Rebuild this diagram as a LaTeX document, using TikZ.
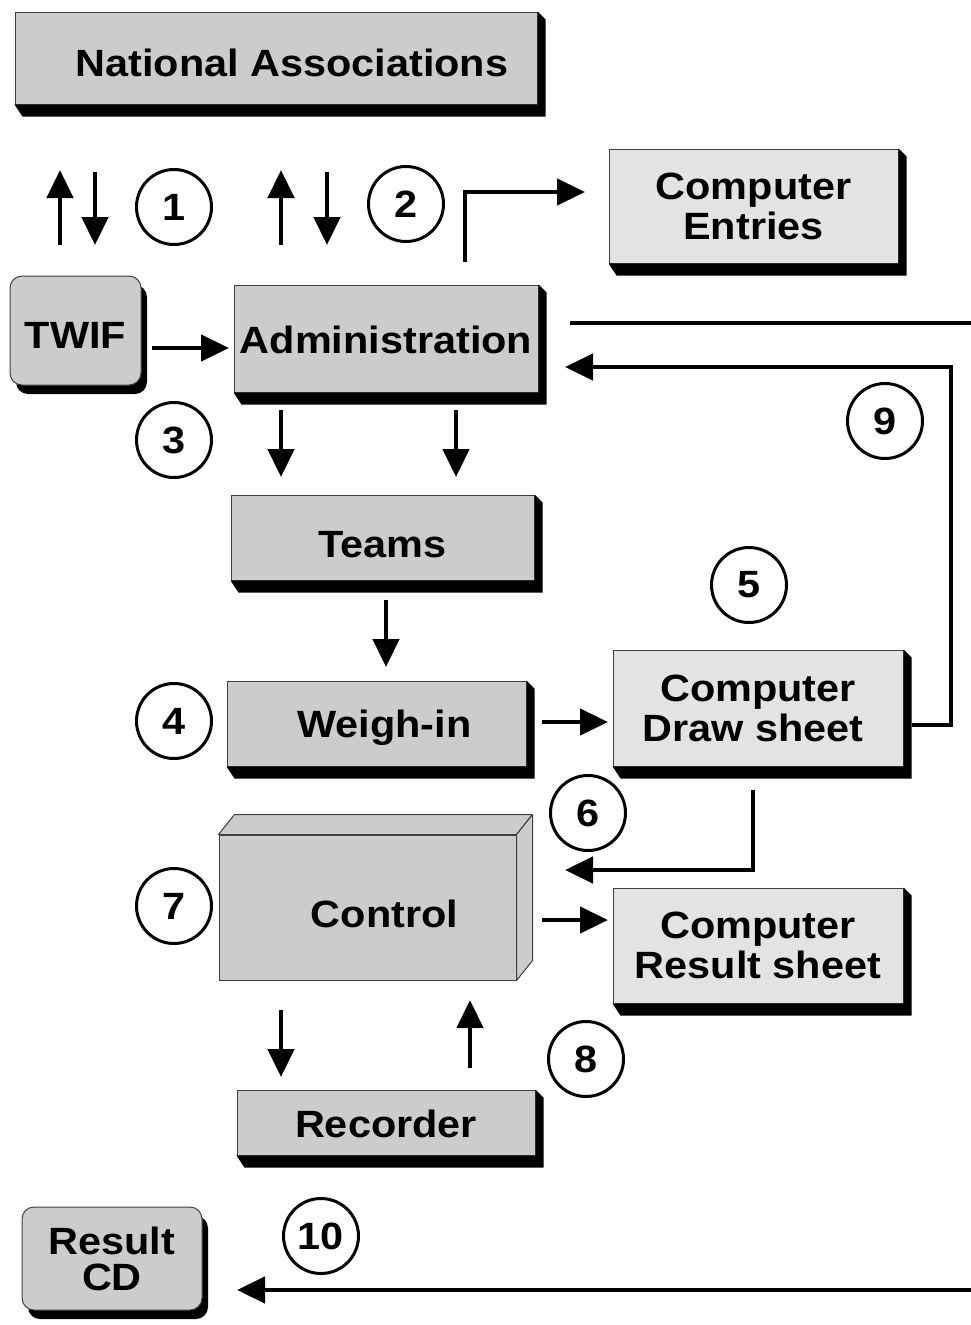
\documentclass[tikz,border=0pt]{standalone}
\usepackage{fontspec}
\setmainfont{Liberation Sans}[FakeStretch=1.09]
\usetikzlibrary{arrows.meta,calc,shadows}
\definecolor{boxgray}{HTML}{CCCCCC}
\definecolor{boxlight}{HTML}{E3E3E3}
\tikzset{
  x=1pt,y=-1pt,
  box/.style={draw=black!75, line width=1pt, fill=boxgray, inner sep=0pt,
    font=\fontsize{38}{40}\selectfont\bfseries, align=center},
  lightbox/.style={box, fill=boxlight},
  rbox/.style={box, rounded corners=12pt,
    drop shadow={shadow xshift=6pt, shadow yshift=-9pt, fill=black, opacity=1}},
  numc/.style={circle, draw=black, line width=3pt, minimum size=75pt, inner sep=0pt,
    font=\fontsize{38}{40}\selectfont\bfseries},
  arr/.style={line width=4.5pt, -{Triangle[length=28pt,width=26pt]}},
  conn/.style={line width=4.5pt},
  face/.style={fill=boxgray, draw=black!75, line width=1pt, line join=round},
}
\newcommand\bevshadow[1]{\fill[black] (#1.north east) -- ++(8,8) -- ($(#1.south east)+(8,12)$) -- ($(#1.south west)+(8,12)$) -- (#1.south west) -- (#1.south east) -- cycle;}
\newcommand\tlow[2]{\raisebox{-#1pt}[0.72em][0pt]{#2}}
\begin{document}
\begin{tikzpicture}
\useasboundingbox (0,0) rectangle (970,1325);

% boxes
\node[box, minimum width=522pt, minimum height=92pt] (na) at (276,58) {\hspace*{32pt}\tlow{5}{National Associations}};
\bevshadow{na}
\node[rbox, minimum width=131pt, minimum height=109pt] (twif) at (75.5,330.5) {\tlow{4}{TWIF}};
\node[box, minimum width=304pt, minimum height=107pt] (admin) at (386,338.5) {\tlow{1.5}{Administration}};
\bevshadow{admin}
\node[lightbox, minimum width=289pt, minimum height=114pt] (ce) at (753.5,206) {Computer\\Entries};
\bevshadow{ce}
\node[box, minimum width=303pt, minimum height=85pt] (teams) at (382.5,537.5) {\tlow{6.5}{Teams}};
\bevshadow{teams}
\node[box, minimum width=299pt, minimum height=85pt] (weigh) at (376.5,723.5) {\hspace*{16pt}\tlow{0}{Weigh-in}};
\bevshadow{weigh}
\node[lightbox, minimum width=290pt, minimum height=116pt] (draw) at (758,708) {Computer\\Draw sheet\hspace*{10pt}};
\bevshadow{draw}
\node[box, minimum width=297pt, minimum height=145pt] (ctrl) at (367.5,907.5) {\hspace*{34pt}\tlow{6.5}{Control}};
\filldraw[face] (ctrl.north west) -- ++(16,-20) -- ($(ctrl.north east)+(16,-20)$) -- (ctrl.north east) -- cycle;
\filldraw[face] (ctrl.north east) -- ++(16,-20) -- ($(ctrl.south east)+(16,-20)$) -- (ctrl.south east) -- cycle;
\node[lightbox, minimum width=290pt, minimum height=115pt] (res) at (758,945.5) {Computer\\Result sheet};
\bevshadow{res}
\node[box, minimum width=298pt, minimum height=65pt] (rec) at (386,1122.5) {\tlow{1.5}{Recorder}};
\bevshadow{rec}
\node[rbox, minimum width=180pt, minimum height=103pt, font=\fontsize{38}{36}\selectfont\bfseries] (cd) at (112,1258.5) {Result\\CD};

% numbered circles
\node[numc] (n1) at (174,207) {1};
\node[numc] (n2) at (406,204) {2};
\node[numc] (n3) at (174,440) {3};
\node[numc] (n4) at (174,721) {4};
\node[numc] (n5) at (749,585) {5};
\node[numc] (n6) at (588,813) {6};
\node[numc] (n7) at (174,906) {7};
\node[numc] (n8) at (586,1059) {8};
\node[numc] (n9) at (885,421) {9};
\node[numc] (n10) at (321,1236) {10};

% connector end points
\coordinate (p1a) at (60,245);  \coordinate (p1b) at (60,170);
\coordinate (p2a) at (95,172);  \coordinate (p2b) at (95,245);
\coordinate (p3a) at (281,245); \coordinate (p3b) at (281,170);
\coordinate (p4a) at (327,172); \coordinate (p4b) at (327,245);
\coordinate (ceS) at (465,262); \coordinate (ceK) at (465,192); \coordinate (ceE) at (585,192);
\coordinate (twA) at (152,348); \coordinate (twB) at (229,348);
\coordinate (rlA) at (570,323); \coordinate (rlB) at (972,323);
\coordinate (c9a) at (912,725); \coordinate (c9b) at (951,725); \coordinate (c9c) at (951,367); \coordinate (c9d) at (565,367);
\coordinate (adA1) at (281,410); \coordinate (adB1) at (281,477);
\coordinate (adA2) at (456,410); \coordinate (adB2) at (456,477);
\coordinate (tmA) at (386,600); \coordinate (tmB) at (386,667);
\coordinate (wgA) at (542,722); \coordinate (wgB) at (608,722);
\coordinate (dsA) at (753,790); \coordinate (dsK) at (753,870); \coordinate (dsB) at (565,870);
\coordinate (ctA) at (542,920); \coordinate (ctB) at (608,920);
\coordinate (crA) at (281,1010); \coordinate (crB) at (281,1077);
\coordinate (rcA) at (470,1068); \coordinate (rcB) at (470,1000);
\coordinate (cdA) at (972,1290); \coordinate (cdB) at (237,1290);

% connectors
\draw[arr] (p1a) -- (p1b);
\draw[arr] (p2a) -- (p2b);
\draw[arr] (p3a) -- (p3b);
\draw[arr] (p4a) -- (p4b);
\draw[arr] (ceS) -- (ceK) -- (ceE);
\draw[arr] (twA) -- (twB);
\draw[conn] (rlA) -- (rlB);
\draw[arr] (c9a) -- (c9b) -- (c9c) -- (c9d);
\draw[arr] (adA1) -- (adB1);
\draw[arr] (adA2) -- (adB2);
\draw[arr] (tmA) -- (tmB);
\draw[arr] (wgA) -- (wgB);
\draw[arr] (dsA) -- (dsK) -- (dsB);
\draw[arr] (ctA) -- (ctB);
\draw[arr] (crA) -- (crB);
\draw[arr] (rcA) -- (rcB);
\draw[arr] (cdA) -- (cdB);
\end{tikzpicture}
\end{document}
